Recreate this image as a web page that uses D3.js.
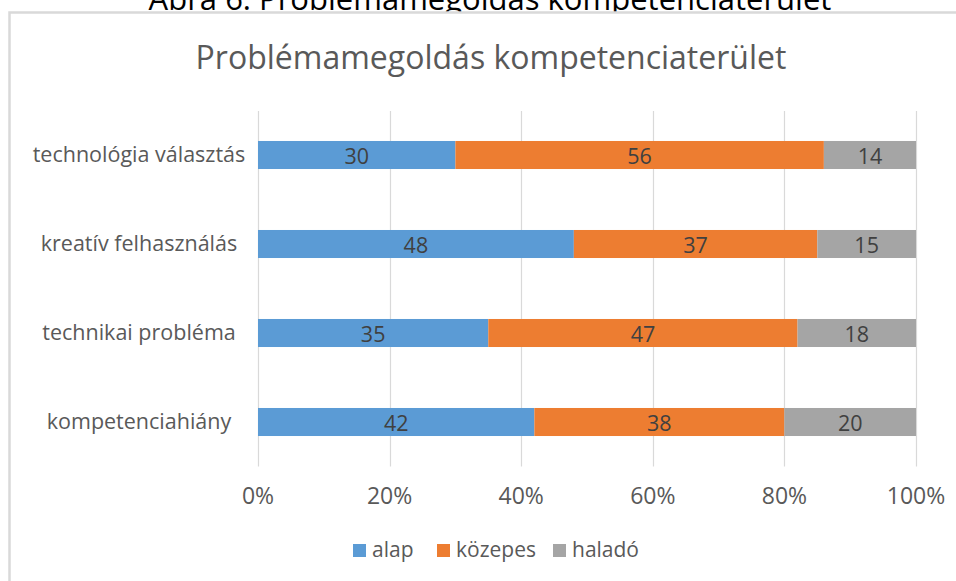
<!DOCTYPE html>
<html>
<head>
<meta charset="utf-8">
<script src="https://cdn.jsdelivr.net/npm/d3@7"></script>
<style>
  body { margin: 0; background: #fff; }
  svg { display: block; }
</style>
</head>
<body>
<svg id="svg"></svg>
<script>
// data
let categories = ["technológia választás", "kreatív felhasználás", "technikai probléma", "kompetenciahiány"];
let seriesNames = ["alap", "közepes", "haladó"];
let alap    = [30, 48, 35, 42];
let kozepes = [56, 37, 47, 38];
let halado  = [14, 15, 18, 20];
let tickValues = [0, 0.2, 0.4, 0.6, 0.8, 1];
let colors = ["#5b9bd5", "#ed7d31", "#a5a5a5"];

let width = 956, height = 581;
let font = "'Open Sans', Lato, sans-serif";

let svg = d3.select("#svg").attr("width", width).attr("height", height);

// caption above the chart box (cut off by the top of the picture, as in the source)
svg.append("text")
   .attr("x", 490).attr("y", 10)
   .attr("text-anchor", "middle")
   .attr("font-family", font)
   .attr("font-size", 31)
   .attr("fill", "#000")
   .text("Ábra 6: Problémamegoldás kompetenciaterület");

// chart box
svg.append("rect")
   .attr("x", 9.5).attr("y", 12.5)
   .attr("width", 960).attr("height", 600)
   .attr("fill", "#fff")
   .attr("stroke", "#d9d9d9")
   .attr("stroke-width", 2.5);

svg.append("text")
   .attr("x", 491).attr("y", 69)
   .attr("text-anchor", "middle")
   .attr("font-family", font)
   .attr("font-size", 32)
   .attr("fill", "#595959")
   .text("Problémamegoldás kompetenciaterület");

// stacked rows (100% stacked)
let rows = categories.map((c, i) => {
  let vals = [alap[i], kozepes[i], halado[i]];
  let total = d3.sum(vals);
  let acc = 0;
  return vals.map((v, j) => {
    let s = { cat: c, series: j, value: v, x0: acc / total, x1: (acc + v) / total };
    acc += v;
    return s;
  });
}).flat();

let x = d3.scaleLinear().domain([0, 1]).range([258, 916]);
let y = d3.scaleBand().domain(categories).range([110.5, 466.5]).paddingInner(0.685).paddingOuter(0.3425);

// gridlines
svg.append("g")
   .selectAll("line")
   .data(tickValues)
   .enter()
   .append("line")
   .attr("x1", d => Math.round(x(d)) + 0.5)
   .attr("x2", d => Math.round(x(d)) + 0.5)
   .attr("y1", 111).attr("y2", 466.5)
   .attr("stroke", "#d9d9d9")
   .attr("stroke-width", 1.2);

// x axis labels
svg.append("g")
   .selectAll("text")
   .data(tickValues)
   .enter()
   .append("text")
   .attr("x", d => x(d))
   .attr("y", 504)
   .attr("text-anchor", "middle")
   .attr("font-family", font)
   .attr("font-size", 23)
   .attr("fill", "#595959")
   .text(d3.format(".0%"));

// category labels (centred in the label area, like Excel)
svg.append("g")
   .selectAll("text")
   .data(categories)
   .enter()
   .append("text")
   .attr("x", 139)
   .attr("y", d => y(d) + y.bandwidth() / 2 + 7)
   .attr("text-anchor", "middle")
   .attr("font-family", font)
   .attr("font-size", 21.5)
   .attr("fill", "#595959")
   .text(d => d);

// bars
svg.append("g")
   .selectAll("rect")
   .data(rows)
   .enter()
   .append("rect")
   .attr("x", d => x(d.x0))
   .attr("width", d => x(d.x1) - x(d.x0))
   .attr("y", d => y(d.cat))
   .attr("height", y.bandwidth())
   .attr("fill", d => colors[d.series]);

// bar value labels
svg.append("g")
   .selectAll("text")
   .data(rows)
   .enter()
   .append("text")
   .attr("x", d => (x(d.x0) + x(d.x1)) / 2)
   .attr("y", d => y(d.cat) + y.bandwidth() / 2 + 8.5)
   .attr("text-anchor", "middle")
   .attr("font-family", font)
   .attr("font-size", 21.5)
   .attr("fill", "#404040")
   .text(d => d.value);

// legend
let legendX = [353, 437, 553];
let lg = svg.append("g")
   .selectAll("g")
   .data(seriesNames)
   .enter()
   .append("g")
   .attr("transform", (d, i) => "translate(" + legendX[i] + ",544)");

lg.append("rect")
  .attr("x", 0).attr("y", 0)
  .attr("width", 13).attr("height", 13)
  .attr("fill", (d, i) => colors[i]);

lg.append("text")
  .attr("x", 19).attr("y", 13)
  .attr("font-family", font)
  .attr("font-size", 21)
  .attr("fill", "#595959")
  .text(d => d);
</script>
</body>
</html>
